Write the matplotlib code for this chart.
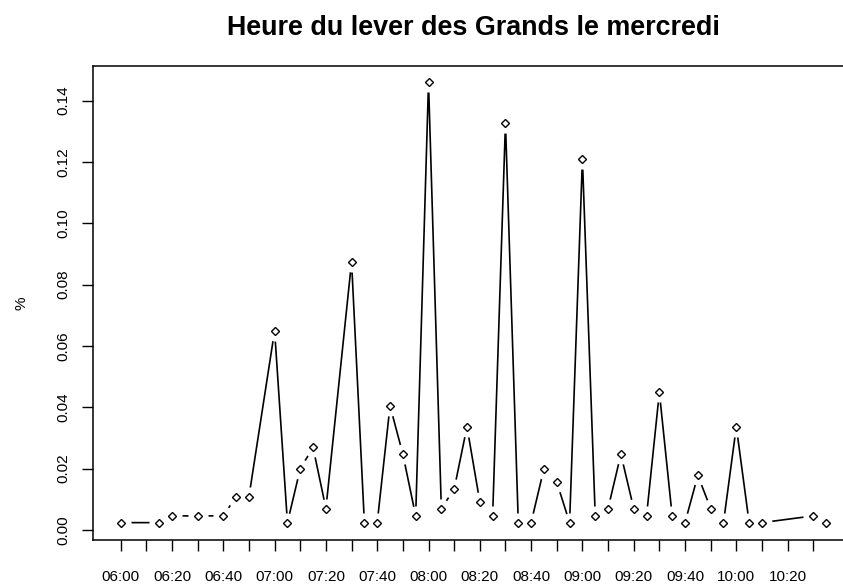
import matplotlib
matplotlib.use("Agg")
import matplotlib.pyplot as plt

plt.rcParams['font.family'] = ['Liberation Sans', 'DejaVu Sans']

title = "Heure du lever des Grands le mercredi"
ylabel = "%"

times = ["06:00", "06:15", "06:20", "06:30", "06:40", "06:45", "06:50",
         "07:00", "07:05", "07:10", "07:15", "07:20", "07:30", "07:35",
         "07:40", "07:45", "07:50", "07:55", "08:00", "08:05", "08:10",
         "08:15", "08:20", "08:25", "08:30", "08:35", "08:40", "08:45",
         "08:50", "08:55", "09:00", "09:05", "09:10", "09:15", "09:20",
         "09:25", "09:30", "09:35", "09:40", "09:45", "09:50", "09:55",
         "10:00", "10:05", "10:10", "10:30", "10:35"]

values = [0.0024, 0.0024, 0.0046, 0.0046, 0.0046, 0.0109, 0.0109,
          0.065, 0.0024, 0.020, 0.0269, 0.0070, 0.0875, 0.0024,
          0.0024, 0.0405, 0.0247, 0.0046, 0.146, 0.0070, 0.0133,
          0.0337, 0.0092, 0.0046, 0.1328, 0.0024, 0.0024, 0.020,
          0.0156, 0.0024, 0.121, 0.0046, 0.0070, 0.0247, 0.0070,
          0.0046, 0.0449, 0.0046, 0.0024, 0.0178, 0.0070, 0.0024,
          0.0337, 0.0024, 0.0024, 0.0046, 0.0024]

xtick_times = ["06:00", "06:10", "06:20", "06:30", "06:40", "06:50",
               "07:00", "07:10", "07:20", "07:30", "07:40", "07:50",
               "08:00", "08:10", "08:20", "08:30", "08:40", "08:50",
               "09:00", "09:10", "09:20", "09:30", "09:40", "09:50",
               "10:00", "10:10", "10:20", "10:30"]
xtick_labels = ["06:00", "", "06:20", "", "06:40", "", "07:00", "",
                "07:20", "", "07:40", "", "08:00", "", "08:20", "",
                "08:40", "", "09:00", "", "09:20", "", "09:40", "",
                "10:00", "", "10:20", ""]
yticks = [0.00, 0.02, 0.04, 0.06, 0.08, 0.10, 0.12, 0.14]


def minutes(t):
    h, m = t.split(":")
    return (int(h) - 6) * 60 + int(m)


x = [minutes(t) for t in times]
xt = [minutes(t) for t in xtick_times]

W, H = 843, 586
fig = plt.figure(figsize=(W / 100, H / 100), dpi=100)
left_px, right_px, top_px, bottom_px = 92.5, 854.3, 66, 539.5
ax = fig.add_axes([left_px / W, 1 - bottom_px / H,
                   (right_px - left_px) / W, (bottom_px - top_px) / H])

ax.plot(x, values, color='black', lw=1.2, zorder=2)
# gaps around points (R type="b")
ax.plot(x, values, linestyle='none', marker='o', ms=14.5, mfc='white',
        mec='none', zorder=3)
ax.plot(x, values, linestyle='none', marker='D', ms=4.4, mfc='white',
        mec='black', mew=1.0, zorder=4)

ax.set_xlim(-11, 286)
ax.set_ylim(-0.0031, 0.1513)

ax.set_xticks(xt)
ax.set_xticklabels(xtick_labels)
ax.set_yticks(yticks)
ax.set_yticklabels([f"{v:.2f}" for v in yticks], rotation=90, va='center')

ax.tick_params(axis='x', length=8, width=1, pad=14, labelsize=11,
               colors='black')
ax.tick_params(axis='y', length=8, width=1, pad=8, labelsize=11,
               colors='black')
for s in ax.spines.values():
    s.set_linewidth(1.1)

fig.text(473 / W, 1 - 35 / H, title, ha='center', va='baseline',
         fontsize=19.4, fontweight='bold')
fig.text(22 / W, 1 - 302.75 / H, ylabel, ha='center', va='center',
         rotation=90, fontsize=11)

fig.savefig("out.png", dpi=100)
